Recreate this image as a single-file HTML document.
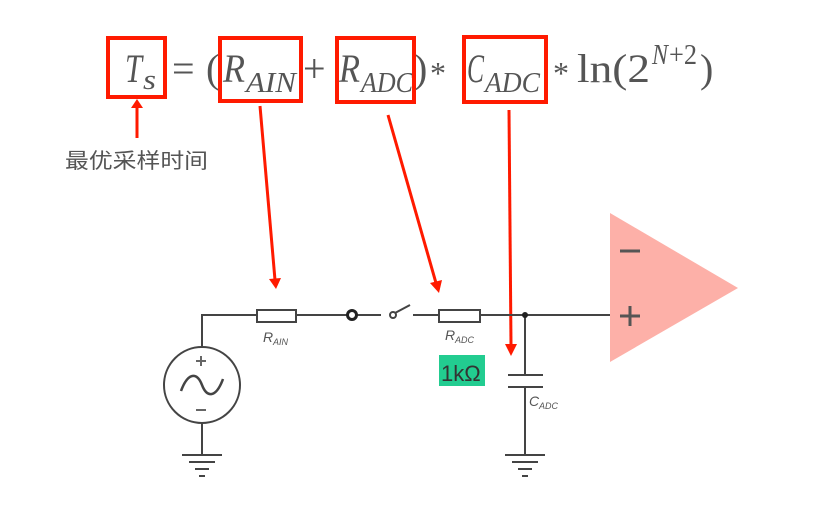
<!DOCTYPE html>
<html><head><meta charset="utf-8"><style>
html,body{margin:0;padding:0;background:#fff;}
svg{display:block;}
</style></head><body>
<svg width="817" height="530" viewBox="0 0 817 530" xmlns="http://www.w3.org/2000/svg">
<rect width="817" height="530" fill="#fff"/>
<!-- formula -->
<g font-family="Liberation Serif, serif" fill="#555">
<text x="125" y="82" font-size="40" font-style="italic" textLength="17" lengthAdjust="spacingAndGlyphs">T</text>
<text x="143" y="89" font-size="28" font-style="italic" textLength="13" lengthAdjust="spacingAndGlyphs">s</text>
<text x="172" y="82" font-size="40">=</text>
<text x="206" y="82" font-size="40">(</text>
<text x="223" y="82" font-size="40" font-style="italic" textLength="22" lengthAdjust="spacingAndGlyphs">R</text>
<text x="246" y="92" font-size="28" font-style="italic" textLength="50" lengthAdjust="spacingAndGlyphs">AIN</text>
<text x="303" y="82" font-size="40">+</text>
<text x="339" y="82" font-size="40" font-style="italic" textLength="21" lengthAdjust="spacingAndGlyphs">R</text>
<text x="361" y="92" font-size="28" font-style="italic" textLength="52" lengthAdjust="spacingAndGlyphs">ADC</text>
<text x="414" y="82" font-size="40">)</text>
<text x="430" y="84" font-size="32">*</text>
<text x="467" y="82" font-size="40" font-style="italic" textLength="17" lengthAdjust="spacingAndGlyphs">C</text>
<text x="485" y="92" font-size="28" font-style="italic" textLength="55" lengthAdjust="spacingAndGlyphs">ADC</text>
<text x="553" y="84" font-size="32">*</text>
<text x="577" y="82" font-size="40" textLength="73" lengthAdjust="spacingAndGlyphs">ln(2</text>
<text x="652" y="64" font-size="28" font-style="italic" textLength="16" lengthAdjust="spacingAndGlyphs">N</text>
<text x="669" y="64" font-size="28" textLength="28" lengthAdjust="spacingAndGlyphs">+2</text>
<text x="700" y="82" font-size="40">)</text>
</g>
<!-- red boxes -->
<g fill="none" stroke="#ff1a00" stroke-width="4">
<rect x="108" y="38" width="57" height="59"/>
<rect x="220" y="38" width="81" height="63"/>
<rect x="337" y="38" width="77" height="64"/>
<rect x="464" y="37" width="82" height="65"/>
</g>
<!-- red arrows -->
<g stroke="#ff1a00" stroke-width="3" fill="#ff1a00">
<line x1="137" y1="138" x2="137" y2="106"/>
<polygon points="131,108 143,108 137,99" stroke="none"/>
<line x1="260" y1="106" x2="275" y2="280"/>
<polygon points="269,279 281,278 276,289" stroke="none"/>
<line x1="388" y1="115" x2="436" y2="283"/>
<polygon points="430,283 442,280 439,293" stroke="none"/>
<line x1="509" y1="110" x2="511" y2="345"/>
<polygon points="505,344 517,344 511,356" stroke="none"/>
</g>
<text x="65" y="168" font-family="Liberation Sans, Noto Sans CJK SC, sans-serif" font-size="21" fill="#555" textLength="143" lengthAdjust="spacingAndGlyphs">最优采样时间</text>
<!-- circuit -->
<g stroke="#444" stroke-width="2" fill="none">
<polyline points="202,347 202,315 257,315"/>
<rect x="257" y="310" width="39" height="12"/>
<line x1="296" y1="315" x2="350" y2="315"/>
<line x1="350" y1="315" x2="381" y2="315"/>
<circle cx="393" cy="315" r="3" fill="#fff"/>
<line x1="395" y1="313" x2="410" y2="305"/>
<line x1="413" y1="315" x2="439" y2="315"/>
<rect x="439" y="310" width="41" height="12"/>
<line x1="480" y1="315" x2="612" y2="315"/>
<line x1="525" y1="315" x2="525" y2="375"/>
<line x1="508" y1="375" x2="543" y2="375"/>
<line x1="508" y1="387" x2="543" y2="387"/>
<line x1="525" y1="387" x2="525" y2="455"/>
<line x1="505" y1="455" x2="545" y2="455"/>
<line x1="512" y1="462" x2="538" y2="462"/>
<line x1="518" y1="469" x2="532" y2="469"/>
<line x1="522" y1="476" x2="528" y2="476"/>
<circle cx="202" cy="385" r="38"/>
<line x1="202" y1="423" x2="202" y2="455"/>
<line x1="182" y1="455" x2="222" y2="455"/>
<line x1="189" y1="462" x2="215" y2="462"/>
<line x1="195" y1="469" x2="209" y2="469"/>
<line x1="199" y1="476" x2="205" y2="476"/>
<path d="M181,391 C188,372 197,372 202,385 C207,398 216,398 223,379" stroke-width="2.5"/>
<line x1="196" y1="361" x2="206" y2="361" stroke="#666"/>
<line x1="201" y1="356" x2="201" y2="366" stroke="#666"/>
<line x1="196" y1="410" x2="206" y2="410" stroke="#666"/>
</g>
<circle cx="352" cy="315" r="4.5" fill="#fff" stroke="#222" stroke-width="3"/>
<circle cx="525" cy="315" r="3" fill="#222"/>
<g font-family="Liberation Sans, sans-serif" font-style="italic" fill="#555">
<text x="263" y="342" font-size="14">R</text><text x="273" y="345" font-size="9">AIN</text>
<text x="445" y="340" font-size="14">R</text><text x="455" y="343" font-size="9">ADC</text>
<text x="529" y="406" font-size="14">C</text><text x="539" y="409" font-size="9">ADC</text>
</g>
<rect x="439" y="355" width="46" height="31" fill="#22cc90"/>
<text x="441" y="381" font-family="Liberation Sans, sans-serif" font-size="22" fill="#333">1kΩ</text>
<!-- opamp -->
<polygon points="610,213 738,288 610,362" fill="#fdb0a8"/>
<g stroke="#555" stroke-width="3">
<line x1="620" y1="251" x2="640" y2="251"/>
<line x1="620" y1="316" x2="640" y2="316"/>
<line x1="630" y1="306" x2="630" y2="326"/>
</g>
</svg>
</body></html>
